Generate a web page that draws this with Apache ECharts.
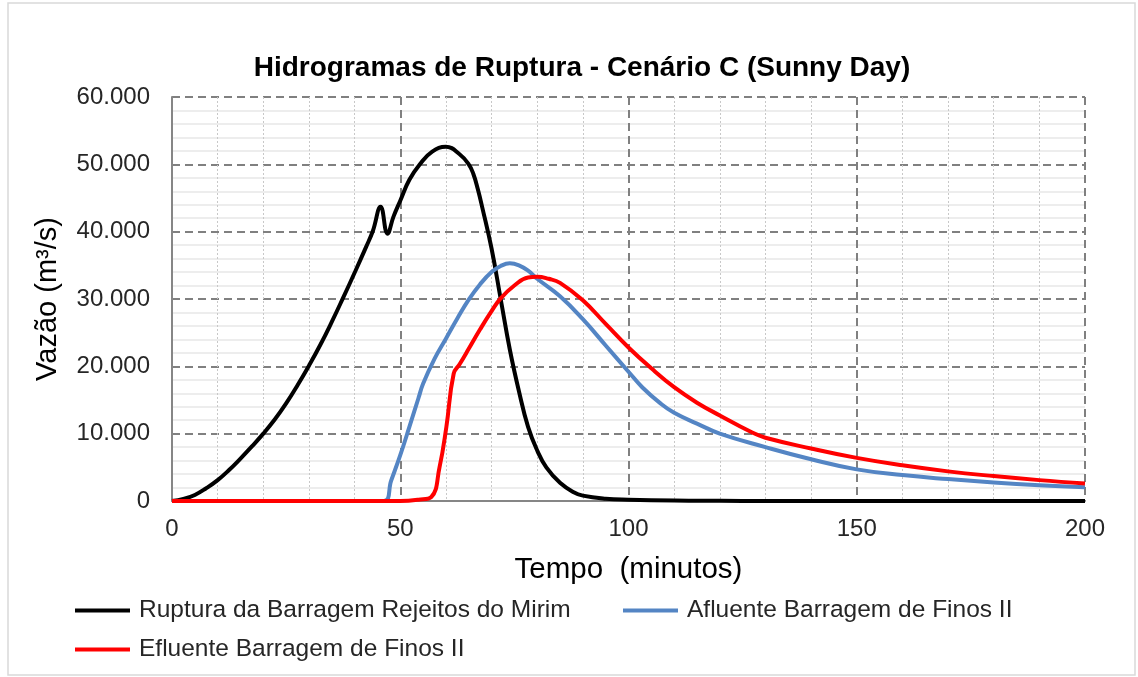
<!DOCTYPE html>
<html>
<head>
<meta charset="utf-8">
<script src="https://cdn.jsdelivr.net/npm/echarts@6/dist/echarts.min.js"></script>
<style>
html,body{margin:0;padding:0;background:#fff}
#chart{width:1138px;height:677px}
</style>
</head>
<body>
<div id="chart"></div>
<script>
// tempo (min) e vazão (m3/s)
var blackT = [0,2.5,5,7.5,10,12.5,15,17.5,20,22.5,25,27.5,30,32.5,35,37.5,40,42.5,44,45.7,47.2,48.5,50,52,54.3,57,60,63,65,66,67,68,70,72,74,76,78,80,82,85,88,90,95,100,110,120,130,200];
var blackV = [0,300,900,1900,3100,4600,6300,8100,10000,12100,14500,17200,20100,23200,26600,30200,33900,37700,40100,43700,39700,42200,44600,47700,50000,51900,52600,51500,50000,48600,46300,43500,37500,30000,22500,16300,11000,7500,5000,2700,1300,800,350,200,60,20,0,0];

var blueT = [0,46.4,48,50,52,54,55,57.5,60,62.5,65,67.5,70,72,74,76,78,80,85,90,95,100,103,107,110,115,120,130,140,150,160,170,180,190,200];
var blueV = [0,0,3000,6800,11000,15300,17400,21100,24100,27100,29900,32200,34000,34900,35300,35000,34200,33000,30400,27000,23100,19200,16900,14500,13100,11500,10000,8000,6200,4700,3850,3250,2750,2350,2050];

var redT = [0,50,54,56.8,58.6,60.1,61.7,63,65,67.5,70,72,75,78,80,82.5,85,90,95,100,105,110,115,120,127,130,140,150,160,170,180,190,200];
var redV = [0,0,200,600,5000,11000,18900,20300,22600,25500,28200,30100,32000,33200,33300,33000,32400,29800,26300,22800,19700,16900,14600,12700,10200,9400,7800,6400,5300,4400,3700,3100,2600];

var nomes = ['Ruptura da Barragem Rejeitos do Mirim', 'Afluente Barragem de Finos II', 'Efluente Barragem de Finos II'];
var xTicks = [0, 50, 100, 150, 200];
var yTicks = [0, 10000, 20000, 30000, 40000, 50000, 60000];

function pares(t, v) {
  return t.map(function (x, i) { return [x, v[i]]; });
}
function milhar(v) {
  return String(v).replace(/\B(?=(\d{3})+(?!\d))/g, '.');
}

var fonte = "'Liberation Sans', Arial, sans-serif";
var chart = echarts.init(document.getElementById('chart'));

var legendaBase = {
  orient: 'horizontal',
  padding: 0,
  icon: 'rect',
  itemWidth: 55,
  itemHeight: 4,
  textStyle: { fontFamily: fonte, fontSize: 24.5, color: '#262626', padding: [0, 0, 0, 4] }
};

chart.setOption({
  animation: false,
  backgroundColor: '#fff',
  title: {
    text: 'Hidrogramas de Ruptura - Cenário C (Sunny Day)',
    left: 577,
    textAlign: 'center',
    top: 49,
    textStyle: { fontFamily: fonte, fontSize: 28, fontWeight: 'bold', color: '#000' }
  },
  graphic: [{
    type: 'rect',
    shape: { x: 8, y: 3, width: 1127, height: 672 },
    style: { fill: 'none', stroke: '#d9d9d9', lineWidth: 1.5 },
    silent: true
  }],
  legend: [
    Object.assign({ left: 75, top: 598, data: [nomes[0]] }, legendaBase),
    Object.assign({ left: 623, top: 598, data: [nomes[1]] }, legendaBase),
    Object.assign({ left: 75, top: 637, data: [nomes[2]] }, legendaBase)
  ],
  grid: { left: 172, right: 53, top: 97, bottom: 176 },
  xAxis: {
    type: 'value',
    min: xTicks[0],
    max: xTicks[xTicks.length - 1],
    interval: 50,
    name: 'Tempo  (minutos)',
    nameLocation: 'middle',
    nameGap: 54,
    nameTextStyle: { fontFamily: fonte, fontSize: 29.5, color: '#000' },
    axisLine: { show: true, lineStyle: { color: '#868686', width: 2 } },
    axisTick: { show: false },
    axisLabel: { fontFamily: fonte, fontSize: 24, color: '#262626', margin: 16 },
    splitLine: { show: true, lineStyle: { color: '#808080', width: 2, type: [8, 5] } },
    minorTick: { show: false, splitNumber: 5 },
    minorSplitLine: { show: true, lineStyle: { color: '#c8c8c8', width: 1, type: [2, 2] } }
  },
  yAxis: {
    type: 'value',
    min: yTicks[0],
    max: yTicks[yTicks.length - 1],
    interval: 10000,
    name: 'Vazão (m³/s)',
    nameLocation: 'middle',
    nameGap: 110,
    nameTextStyle: { fontFamily: fonte, fontSize: 29, color: '#000' },
    axisLine: { show: true, lineStyle: { color: '#868686', width: 2 } },
    axisTick: { show: false },
    axisLabel: { fontFamily: fonte, fontSize: 24, color: '#262626', margin: 22, formatter: milhar },
    splitLine: { show: true, lineStyle: { color: '#808080', width: 2, type: [8, 5] } },
    minorTick: { show: false, splitNumber: 5 },
    minorSplitLine: { show: true, lineStyle: { color: '#ededed', width: 2 } }
  },
  series: [
    {
      name: nomes[0], type: 'line', data: pares(blackT, blackV),
      smooth: 0.45, symbol: 'none', color: '#000000',
      lineStyle: { width: 4, color: '#000000' }
    },
    {
      name: nomes[1], type: 'line', data: pares(blueT, blueV),
      smooth: 0.45, symbol: 'none', color: '#5485c4',
      lineStyle: { width: 4, color: '#5485c4' }
    },
    {
      name: nomes[2], type: 'line', data: pares(redT, redV),
      smooth: 0.45, symbol: 'none', color: '#ff0000',
      lineStyle: { width: 4, color: '#ff0000' }
    }
  ]
});
</script>
</body>
</html>
